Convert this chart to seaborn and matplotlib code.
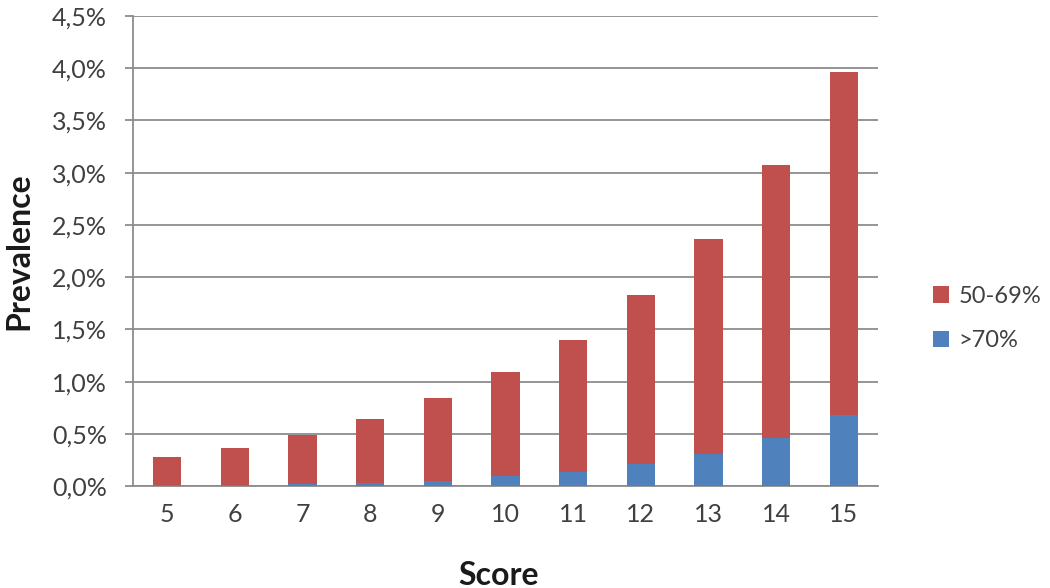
import pandas as pd
import seaborn as sns
import matplotlib.pyplot as plt
from matplotlib.ticker import FuncFormatter, FixedLocator

scores = [5, 6, 7, 8, 9, 10, 11, 12, 13, 14, 15]
over70 = [0.01, 0.01, 0.02, 0.03, 0.05, 0.10, 0.14, 0.21, 0.31, 0.46, 0.68]
mid = [0.27, 0.36, 0.47, 0.61, 0.79, 0.99, 1.26, 1.62, 2.06, 2.61, 3.28]

df = pd.DataFrame({"score": [str(s) for s in scores], "over70": over70, "mid": mid})
df["total"] = df["over70"] + df["mid"]

sns.set_style("white")
plt.rcParams["font.family"] = ["Lato", "DejaVu Sans"]

fig = plt.figure(figsize=(10.5, 5.88), dpi=100)
ax = fig.add_axes([0.127, 0.173, 0.709, 0.800])

sns.barplot(data=df, x="score", y="total", color="#C0504D", width=0.42,
            saturation=1, ax=ax, label="50-69%", zorder=3, linewidth=0)
sns.barplot(data=df, x="score", y="over70", color="#4F81BD", width=0.42,
            saturation=1, ax=ax, label=">70%", zorder=3, linewidth=0)

ax.set_ylim(0, 4.5)
ax.set_xlim(-0.5, len(scores) - 0.5)
ax.set_yticks([i * 0.5 for i in range(10)])
ax.yaxis.set_major_formatter(FuncFormatter(lambda v, p: f"{v:.1f}".replace(".", ",") + "%"))
ax.yaxis.grid(True, color="#8c8c8c", linewidth=1.3, zorder=0)
ax.set_axisbelow(True)

for s in ["top", "right"]:
    ax.spines[s].set_visible(False)
for s in ["left", "bottom"]:
    ax.spines[s].set_color("#8c8c8c")
    ax.spines[s].set_linewidth(1.3)

ax.xaxis.set_minor_locator(FixedLocator([i - 0.5 for i in range(len(scores) + 1)]))
ax.tick_params(axis="x", which="major", length=0, labelsize=18, labelcolor="#404040", pad=12)
ax.tick_params(axis="x", which="minor", length=7, width=1.3, color="#8c8c8c", direction="out")
ax.tick_params(axis="y", which="major", length=6, width=1.3, color="#8c8c8c", direction="out",
               labelsize=18, labelcolor="#404040", left=True, pad=13)

ax.set_xlabel("Score", fontsize=23, fontweight="bold", color="#1a1a1a")
ax.set_ylabel("Prevalence", fontsize=23, fontweight="bold", color="#1a1a1a")
ax.xaxis.set_label_coords(0.49, -0.189)
ax.yaxis.set_label_coords(-0.154, 0.5)
ax.xaxis.label.set_va("center")
ax.yaxis.label.set_va("center")

ax.legend(loc="center left", bbox_to_anchor=(1.045, 0.357), frameon=False, fontsize=17,
          handlelength=0.7, handleheight=0.7, labelspacing=1.0, handletextpad=0.4,
          labelcolor="#404040")

fig.savefig("out.png", dpi=100, facecolor="white")
plt.close()
